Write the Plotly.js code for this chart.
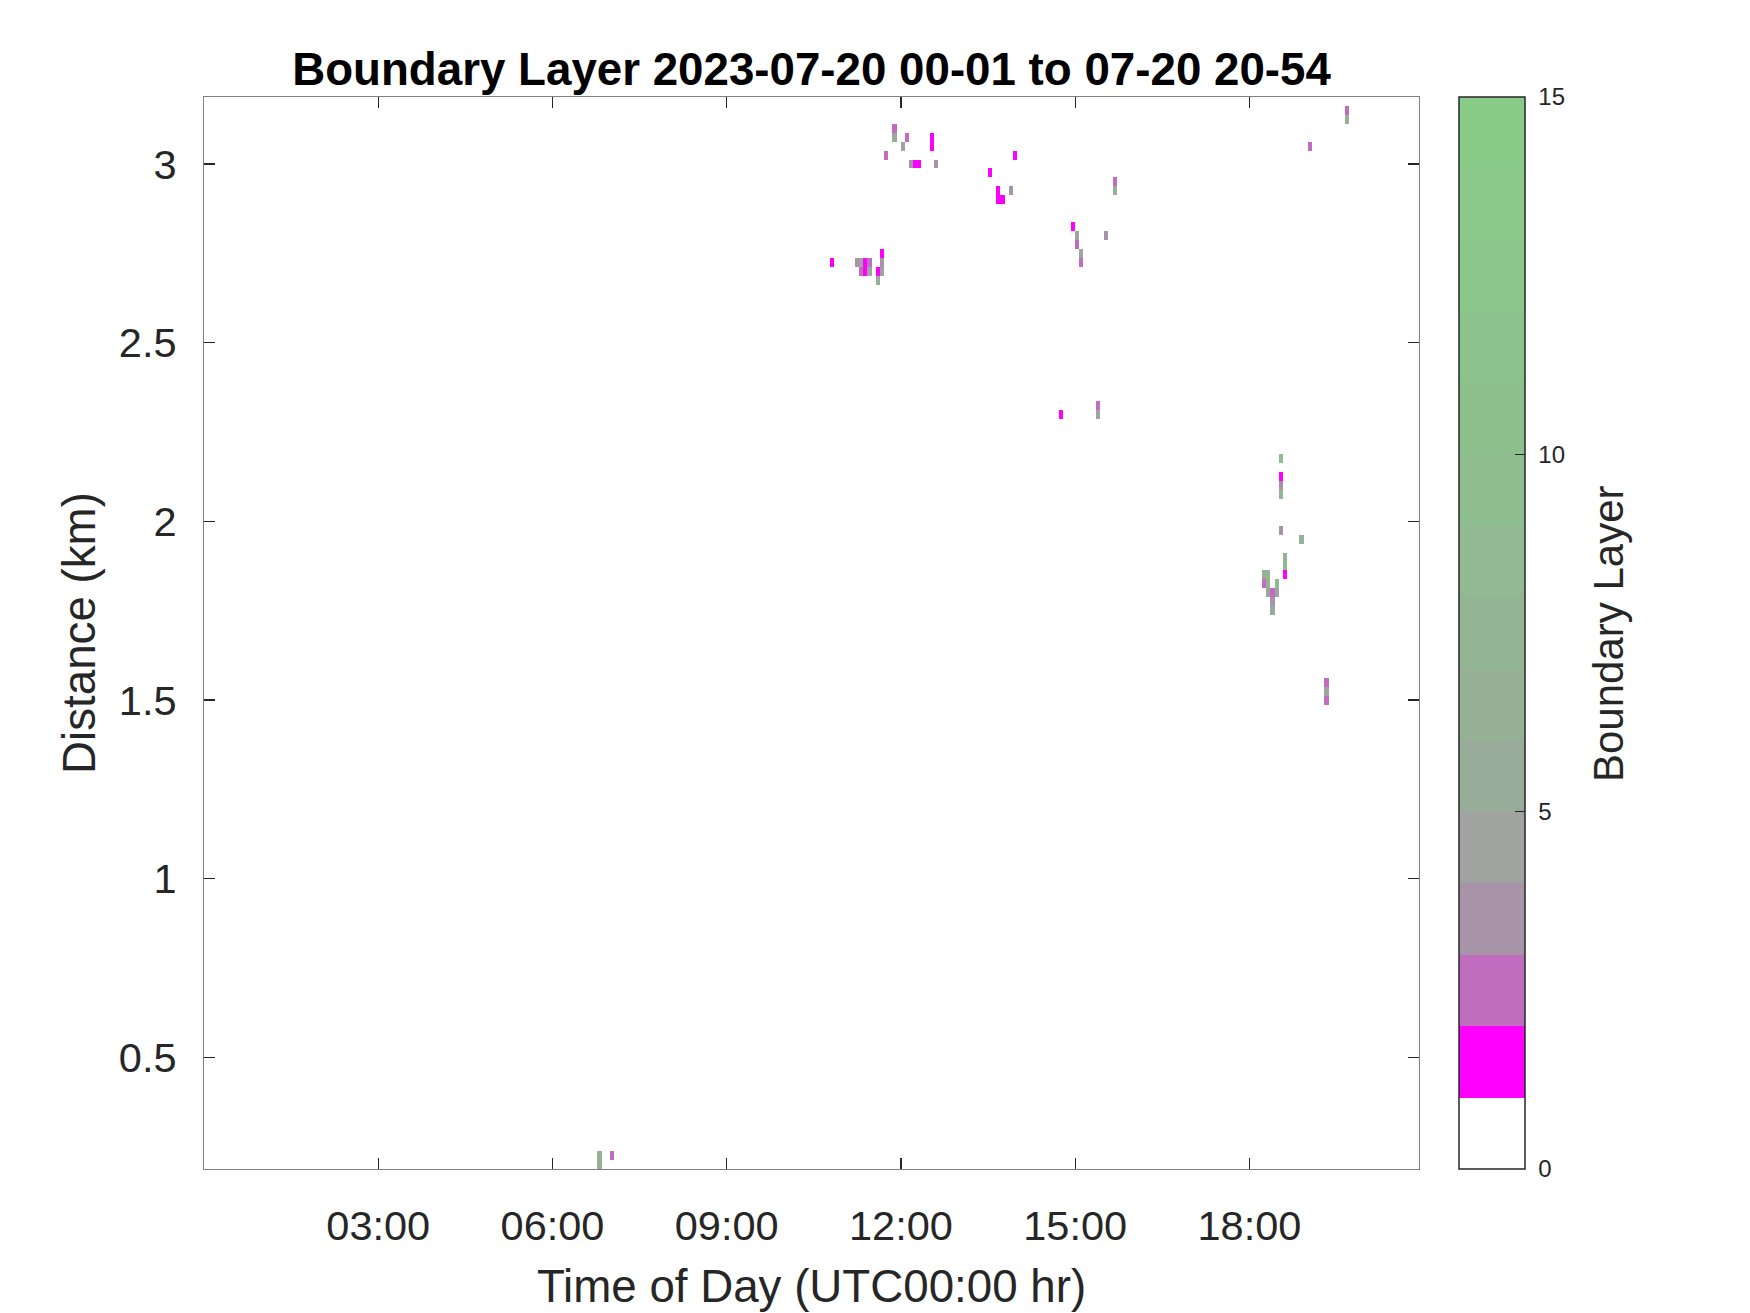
<!DOCTYPE html>
<html>
<head>
<meta charset="utf-8">
<script src="https://cdn.plot.ly/plotly-3.0.1.min.js"></script>
<style>html,body{margin:0;padding:0;background:#fff;}#chart{width:1750px;height:1313px;}</style>
</head>
<body>
<div id="chart"></div>
<script>
// ---- data (time of day in hours, height in km, boundary-layer value) ----
const timeHr = [
  6.80, 6.80, 7.03,
  10.79, 11.25, 11.33, 11.33, 11.40, 11.40, 11.47, 11.47, 11.63, 11.63, 11.70, 11.70, 11.70,
  11.77, 11.86, 11.86, 12.00, 12.07, 12.14, 12.22, 12.30, 12.52, 12.52, 12.60,
  13.50, 13.65, 13.65, 13.72, 13.88, 13.95,
  14.78, 14.94, 15.01, 15.01, 15.08, 15.08, 15.38, 15.38, 15.53, 15.68, 15.68,
  18.25, 18.25, 18.33, 18.33, 18.33, 18.40, 18.40, 18.40, 18.47, 18.47,
  18.55, 18.55, 18.55, 18.55, 18.55, 18.62, 18.62, 18.62, 18.92,
  19.07, 19.33, 19.33, 19.33, 19.67, 19.67
];
const heightKm = [
  0.225, 0.200, 0.225,
  2.725, 2.725, 2.725, 2.700, 2.725, 2.700, 2.725, 2.700, 2.700, 2.675, 2.750, 2.725, 2.700,
  3.025, 3.100, 3.075, 3.050, 3.075, 3.000, 3.000, 3.000, 3.075, 3.050, 3.000,
  2.975, 2.925, 2.900, 2.900, 2.925, 3.025,
  2.300, 2.825, 2.800, 2.775, 2.750, 2.725, 2.325, 2.300, 2.800, 2.950, 2.925,
  1.850, 1.825, 1.850, 1.825, 1.800, 1.800, 1.775, 1.750, 1.825, 1.800,
  2.175, 2.125, 2.100, 2.075, 1.975, 1.900, 1.875, 1.850, 1.950,
  3.050, 1.550, 1.525, 1.500, 3.150, 3.125
];
const layerValue = [
  6, 6, 2,
  1, 3, 4, 2, 1, 1, 2, 4, 1, 5, 1, 3, 4,
  2, 2, 5, 4, 2, 3, 1, 1, 1, 1, 3,
  1, 1, 1, 1, 3, 1,
  1, 1, 4, 2, 5, 2, 2, 4, 3, 2, 6,
  6, 2, 6, 6, 4, 2, 3, 5, 8, 4,
  9, 1, 3, 8, 3, 6, 8, 1, 6,
  2, 2, 4, 2, 2, 6
];
const xTickVals = [3, 6, 9, 12, 15, 18];
const xTickText = ['03:00', '06:00', '09:00', '12:00', '15:00', '18:00'];
const cbTickVals = [0, 5, 10, 15];
// one colour per unit band 0-1, 1-2, ... 14-15
const bandColors = [
  '#ffffff', '#ff00ff', '#c06dc0', '#a894a8', '#a0a3a0',
  '#99ac99', '#96b196', '#94b594', '#92b992', '#90bd90',
  '#8ec08e', '#8cc38c', '#8bc68b', '#8ac98a', '#88cb88'
];

// ---- regular measurement grid ----
const X0 = 1 / 60, DX = 0.0715, Y0 = 0.2, DY = 0.025;
const nCols = Math.round((20.9 - X0) / DX) + 1;
const nRows = 121;
const z = [];
for (let r = 0; r < nRows; r++) z.push(new Array(nCols).fill(null));
for (let i = 0; i < timeHr.length; i++) {
  const c = Math.round((timeHr[i] - X0) / DX);
  const r = Math.round((heightKm[i] - Y0) / DY);
  z[r][c] = layerValue[i];
}

const nb = bandColors.length;
const colorscale = [];
bandColors.forEach((col, i) => {
  colorscale.push([i / nb, col]);
  colorscale.push([i === nb - 1 ? 1 : (i + 1) / nb - 1e-6, col]);
});

const FONT = 'Liberation Sans, Arial, Helvetica, sans-serif';
const plotL = 204, plotR = 1419, plotT = 97, plotB = 1169;
const W = 1750, H = 1313;

const cbBase = {
  x: (1459 - plotL) / (plotR - plotL), xanchor: 'left',
  y: 0.5, yanchor: 'middle',
  len: 1, lenmode: 'fraction',
  thickness: 66, thicknessmode: 'pixels',
  xpad: 0, ypad: 0,
  tickmode: 'array', tickvals: cbTickVals,
  tickfont: {family: FONT, size: 24, color: '#262626'}
};

// colour-bar labels (drawn first, underneath): transparent outside ticks give the label gap
const labelBar = {
  type: 'scatter', mode: 'markers',
  x: [null], y: [null],
  showlegend: false, hoverinfo: 'skip',
  marker: {
    color: [0], cmin: 0, cmax: 15, colorscale: colorscale, showscale: true,
    colorbar: Object.assign({}, cbBase, {
      outlinewidth: 0,
      ticks: 'outside', ticklen: 9, tickcolor: 'rgba(0,0,0,0)'
    })
  }
};

const trace = {
  type: 'heatmap',
  z: z, x0: X0, dx: DX, y0: Y0, dy: DY,
  zmin: 0, zmax: 15,
  colorscale: colorscale,
  hoverongaps: false,
  colorbar: Object.assign({}, cbBase, {
    outlinecolor: '#262626', outlinewidth: 1.5,
    ticks: 'inside', ticklen: 10, tickcolor: '#262626', tickwidth: 1.2,
    showticklabels: false
  })
};

const layout = {
  width: W, height: H,
  paper_bgcolor: '#ffffff', plot_bgcolor: '#ffffff',
  margin: {l: plotL, r: W - plotR, t: plotT, b: H - plotB, autoexpand: false},
  showlegend: false,
  title: {
    text: 'Boundary Layer 2023-07-20 00-01 to 07-20 20-54',
    font: {family: FONT, size: 45.7, color: '#000000', weight: 'bold'},
    x: (plotL + plotR) / 2 / W, xanchor: 'center', xref: 'container',
    y: 1 - 69 / H, yanchor: 'middle', yref: 'container'
  },
  xaxis: {
    range: [0, 20.92],
    tickmode: 'array', tickvals: xTickVals, ticktext: xTickText,
    ticks: 'inside', ticklen: 11, tickwidth: 1.2, tickcolor: '#262626',
    showline: true, linecolor: '#808080', linewidth: 1.2, mirror: 'ticks',
    showgrid: false, zeroline: false,
    tickfont: {family: FONT, size: 41.5, color: '#262626'},
    ticklabelstandoff: 20,
    title: {text: 'Time of Day (UTC00:00 hr)', font: {family: FONT, size: 45.7, color: '#262626'}, standoff: 22},
    automargin: false
  },
  yaxis: {
    range: [0.1875, 3.1875],
    tick0: 0, dtick: 0.5,
    ticks: 'inside', ticklen: 11, tickwidth: 1.2, tickcolor: '#262626',
    showline: true, linecolor: '#808080', linewidth: 1.2, mirror: 'ticks',
    showgrid: false, zeroline: false,
    tickfont: {family: FONT, size: 41.5, color: '#262626'},
    ticklabelstandoff: 18,
    title: {text: 'Distance (km)', font: {family: FONT, size: 45.7, color: '#262626'}, standoff: 8},
    automargin: false
  },
  annotations: [{
    text: 'Boundary Layer',
    xref: 'paper', yref: 'paper',
    x: (1608 - plotL) / (plotR - plotL), y: 0.5,
    xanchor: 'center', yanchor: 'middle',
    textangle: -90, showarrow: false,
    font: {family: FONT, size: 42, color: '#262626'}
  }]
};

Plotly.newPlot('chart', [labelBar, trace], layout, {displayModeBar: false, staticPlot: true});
</script>
</body>
</html>
